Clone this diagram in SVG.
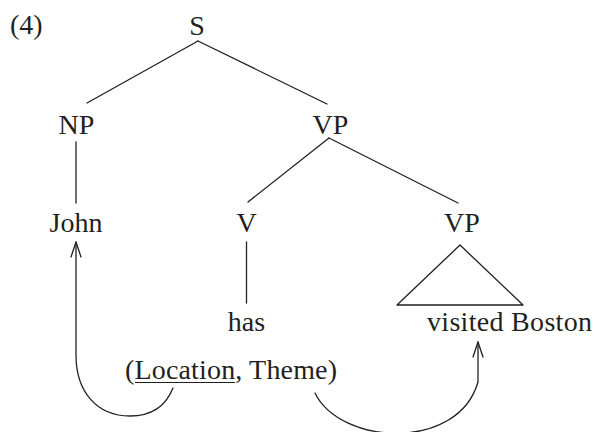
<svg xmlns="http://www.w3.org/2000/svg" width="595" height="432" viewBox="0 0 595 432">
  <style>
    text { font-family: "Liberation Serif", "Times New Roman", serif; font-size: 28px; fill: #231f20; }
    .mid { text-anchor: middle; }
    .edge { stroke: #231f20; stroke-width: 1.3; fill: none; stroke-linecap: round; stroke-linejoin: round; }
  </style>
  <defs>
    <marker id="openArrow" markerUnits="userSpaceOnUse" markerWidth="20" markerHeight="14" viewBox="-16 -7 18 14" refX="0" refY="0" orient="auto">
      <path d="M-15,-5 L0,0 L-15,5" fill="none" stroke="#231f20" stroke-width="1.3" stroke-linecap="round" stroke-linejoin="round"/>
    </marker>
  </defs>

  <!-- example number -->
  <g id="label-4"><text x="10" y="34">(4)</text></g>

  <!-- tree nodes -->
  <g id="node-S"><text class="mid" x="197" y="35">S</text></g>
  <g id="node-NP"><text class="mid" x="76.5" y="134">NP</text></g>
  <g id="node-VP1"><text class="mid" x="330.5" y="134">VP</text></g>
  <g id="node-John"><text class="mid" x="76" y="232">John</text></g>
  <g id="node-V"><text class="mid" x="246.5" y="232">V</text></g>
  <g id="node-VP2"><text class="mid" x="462" y="232">VP</text></g>
  <g id="node-has"><text class="mid" x="246.5" y="331">has</text></g>
  <g id="node-visited-Boston">
    <polygon class="edge" points="460,245 397,305 523,305"/>
    <text x="427" y="331" textLength="165" lengthAdjust="spacing">visited Boston</text>
  </g>
  <g id="node-roles">
    <text x="125" y="379" textLength="212" lengthAdjust="spacing">(Location, Theme)</text>
    <line x1="135" y1="382.5" x2="235" y2="382.5" stroke="#231f20" stroke-width="1.2"/>
  </g>

  <!-- branches and role-linking arrows -->
  <g id="connectors">
    <line class="edge" x1="198" y1="41" x2="87" y2="103"/>
    <line class="edge" x1="198" y1="41" x2="327" y2="104"/>
    <line class="edge" x1="76" y1="142" x2="76" y2="203"/>
    <line class="edge" x1="329" y1="138" x2="248" y2="202"/>
    <line class="edge" x1="329" y1="138" x2="458" y2="203"/>
    <line class="edge" x1="246.5" y1="242" x2="246.5" y2="303"/>
    <path class="edge" d="M173,388 C165,408 150,416 130,416 C97,416 76,392 76,355 L76,242" marker-end="url(#openArrow)"/>
    <path class="edge" d="M315,393 C340,445 458,452 478,382 L478,342" marker-end="url(#openArrow)"/>
  </g>
</svg>
